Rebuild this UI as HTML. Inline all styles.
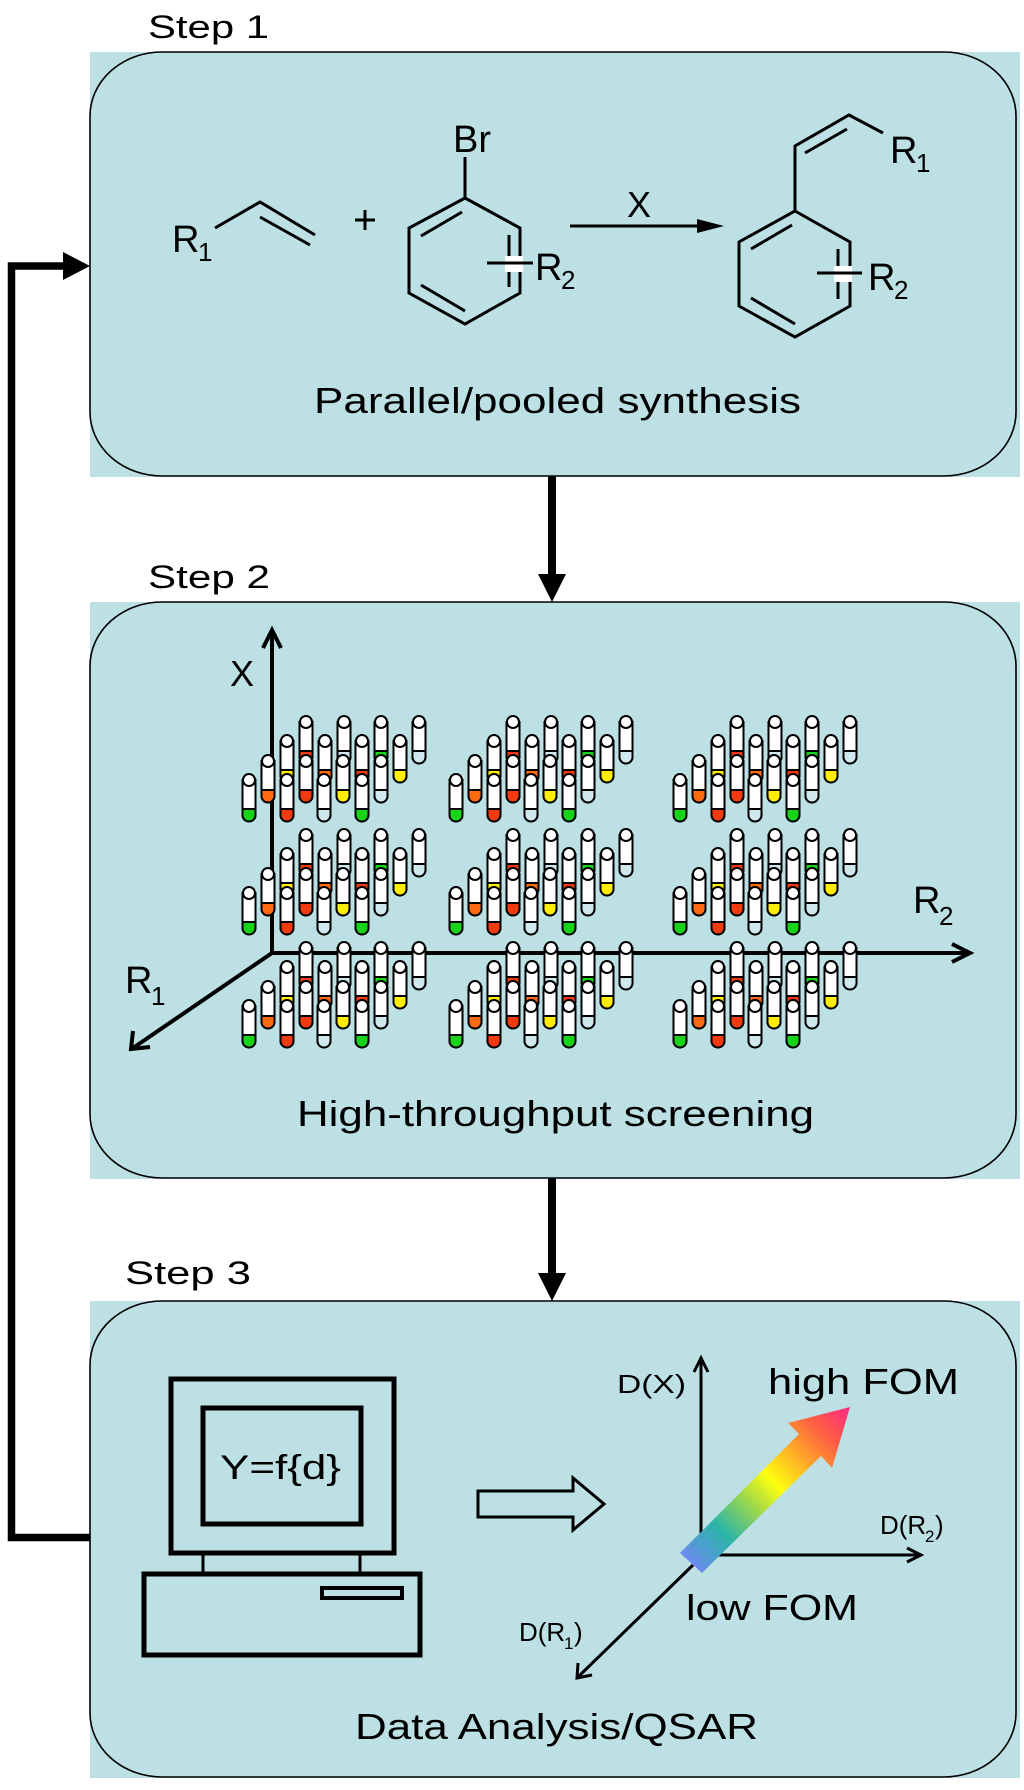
<!DOCTYPE html>
<html><head><meta charset="utf-8"><style>
html,body{margin:0;padding:0;background:#fff}
svg{display:block}
text{font-family:"Liberation Sans",Arial,sans-serif;fill:#000}
</style></head><body>
<svg width="1024" height="1790" viewBox="0 0 1024 1790" xmlns="http://www.w3.org/2000/svg" xmlns:xlink="http://www.w3.org/1999/xlink">
<defs>
<linearGradient id="rb" gradientUnits="userSpaceOnUse" x1="691" y1="1563" x2="850" y2="1407">
<stop offset="0" stop-color="#6a8cf0"/><stop offset="0.2" stop-color="#2ab5a8"/><stop offset="0.38" stop-color="#9fd84a"/><stop offset="0.52" stop-color="#ffff10"/><stop offset="0.7" stop-color="#ffa02a"/><stop offset="0.85" stop-color="#ff5848"/><stop offset="1" stop-color="#ff2a88"/>
</linearGradient>
<g id="t" stroke="#000" stroke-width="2"><path d="M-6.5,0 V35 A6.5,6.5 0 0 0 6.5,35 V0 Z" fill="#fff"/><circle cx="0" cy="0" r="6" fill="#fff"/></g>
<path id="cG" d="M-6.5,29 V35 A6.5,6.5 0 0 0 6.5,35 V29 Z" fill="#18d418" stroke="#000" stroke-width="2"/>
<path id="cO" d="M-6.5,29 V35 A6.5,6.5 0 0 0 6.5,35 V29 Z" fill="#ff6a10" stroke="#000" stroke-width="2"/>
<path id="cR" d="M-6.5,29 V35 A6.5,6.5 0 0 0 6.5,35 V29 Z" fill="#f23a10" stroke="#000" stroke-width="2"/>
<path id="cY" d="M-6.5,29 V35 A6.5,6.5 0 0 0 6.5,35 V29 Z" fill="#ffee00" stroke="#000" stroke-width="2"/>
<path id="cE" d="M-6.5,29 V35 A6.5,6.5 0 0 0 6.5,35 V29 Z" fill="#cfe8ee" stroke="#000" stroke-width="2"/>
<g id="grp">
<g transform="translate(57,-58)"><use xlink:href="#t"/><use xlink:href="#cR"/></g>
<g transform="translate(95,-58)"><use xlink:href="#t"/><use xlink:href="#cE"/></g>
<g transform="translate(132,-58)"><use xlink:href="#t"/><use xlink:href="#cG"/></g>
<g transform="translate(170,-58)"><use xlink:href="#t"/><use xlink:href="#cE"/></g>
<g transform="translate(38,-39)"><use xlink:href="#t"/><use xlink:href="#cY"/></g>
<g transform="translate(76,-39)"><use xlink:href="#t"/><use xlink:href="#cO"/></g>
<g transform="translate(113,-39)"><use xlink:href="#t"/><use xlink:href="#cR"/></g>
<g transform="translate(151,-39)"><use xlink:href="#t"/><use xlink:href="#cY"/></g>
<g transform="translate(19,-19)"><use xlink:href="#t"/><use xlink:href="#cO"/></g>
<g transform="translate(57,-19)"><use xlink:href="#t"/><use xlink:href="#cR"/></g>
<g transform="translate(94,-19)"><use xlink:href="#t"/><use xlink:href="#cY"/></g>
<g transform="translate(132,-19)"><use xlink:href="#t"/><use xlink:href="#cE"/></g>
<g transform="translate(0,0)"><use xlink:href="#t"/><use xlink:href="#cG"/></g>
<g transform="translate(38,0)"><use xlink:href="#t"/><use xlink:href="#cR"/></g>
<g transform="translate(75,0)"><use xlink:href="#t"/><use xlink:href="#cE"/></g>
<g transform="translate(113,0)"><use xlink:href="#t"/><use xlink:href="#cG"/></g>
</g>
</defs>

<rect x="90" y="52" width="930" height="425" fill="#bce0e3"/>
<rect x="90" y="602" width="930" height="577" fill="#bce0e3"/>
<rect x="90" y="1301" width="930" height="477" fill="#bce0e3"/>
<rect x="90" y="52" width="926" height="424" rx="72" ry="64" fill="none" stroke="#000" stroke-width="1.6"/>
<rect x="90" y="602" width="926" height="576" rx="72" ry="64" fill="none" stroke="#000" stroke-width="1.6"/>
<rect x="90" y="1301" width="926" height="476" rx="72" ry="64" fill="none" stroke="#000" stroke-width="1.6"/>

<path d="M90,1537.5 H11.5 V266 H66" fill="none" stroke="#000" stroke-width="7.5"/>
<polygon points="63,252 90,266 63,280" fill="#000"/>

<line x1="552" y1="476" x2="552" y2="576" stroke="#000" stroke-width="8"/>
<polygon points="538,574 566,574 552,602" fill="#000"/>
<line x1="552" y1="1178" x2="552" y2="1276" stroke="#000" stroke-width="8"/>
<polygon points="538,1273 566,1273 552,1301" fill="#000"/>

<text x="148" y="38" font-size="32" textLength="121" lengthAdjust="spacingAndGlyphs">Step 1</text>
<text x="148" y="588" font-size="32" textLength="122" lengthAdjust="spacingAndGlyphs">Step 2</text>
<text x="125" y="1284" font-size="32" textLength="126" lengthAdjust="spacingAndGlyphs">Step 3</text>

<g stroke="#000" stroke-width="3" fill="none">
<polyline points="215,228 260,202 315,235"/>
<line x1="260" y1="217" x2="310" y2="245"/>
<line x1="355" y1="220" x2="375" y2="220"/><line x1="365" y1="210" x2="365" y2="230"/>
<line x1="465" y1="157" x2="465" y2="198"/>
<polygon points="465,198 520,228 520,293 465,324 409,293 409,228"/>
<line x1="421" y1="236" x2="462" y2="212"/>
<line x1="421" y1="285" x2="465" y2="311"/>
<line x1="509" y1="235" x2="509" y2="287"/>
<line x1="570" y1="226" x2="700" y2="226"/>
<polyline points="795,211 795,146 849,115 883,133"/>
<line x1="805" y1="153" x2="847" y2="129"/>
<polygon points="795,211 850,242 850,306 795,337 739,306 739,242"/>
<line x1="751" y1="249" x2="792" y2="225"/>
<line x1="751" y1="298" x2="795" y2="324"/>
<line x1="838" y1="249" x2="838" y2="299"/>
</g>
<rect x="505" y="256" width="18" height="16" fill="#fff"/>
<line x1="487" y1="263" x2="533" y2="263" stroke="#000" stroke-width="3"/>
<rect x="834" y="266" width="18" height="16" fill="#fff"/>
<line x1="817" y1="273" x2="862" y2="273" stroke="#000" stroke-width="3"/>
<polygon points="697,219 724,226 697,233" fill="#000"/>
<text x="172" y="252" font-size="38">R</text><text x="198" y="261" font-size="26">1</text>
<text x="453" y="152" font-size="38">Br</text>
<text x="535" y="280" font-size="38">R</text><text x="561" y="289" font-size="26">2</text>
<text x="627" y="217" font-size="36">X</text>
<text x="890" y="163" font-size="38">R</text><text x="916" y="172" font-size="26">1</text>
<text x="868" y="290" font-size="38">R</text><text x="894" y="299" font-size="26">2</text>
<text x="314" y="413" font-size="36" textLength="487" lengthAdjust="spacingAndGlyphs">Parallel/pooled synthesis</text>

<g stroke="#000" stroke-width="4" fill="none">
<line x1="272" y1="630" x2="272" y2="953"/>
<line x1="272" y1="953" x2="970" y2="953"/>
<line x1="272" y1="953" x2="133" y2="1048"/>
<polyline points="263,648 272,630 281,648"/>
<polyline points="952,944 970,953 952,962"/>
<polyline points="133,1031 131,1049 150,1047"/>
</g>
<text x="230" y="686" font-size="36">X</text>
<text x="913" y="913" font-size="38">R</text><text x="939" y="925" font-size="26">2</text>
<text x="125" y="993" font-size="38">R</text><text x="151" y="1005" font-size="26">1</text>

<use xlink:href="#grp" transform="translate(249,780)"/>
<use xlink:href="#grp" transform="translate(456,780)"/>
<use xlink:href="#grp" transform="translate(680,780)"/>
<use xlink:href="#grp" transform="translate(249,893)"/>
<use xlink:href="#grp" transform="translate(456,893)"/>
<use xlink:href="#grp" transform="translate(680,893)"/>
<use xlink:href="#grp" transform="translate(249,1006)"/>
<use xlink:href="#grp" transform="translate(456,1006)"/>
<use xlink:href="#grp" transform="translate(680,1006)"/>

<text x="297" y="1126" font-size="36" textLength="517" lengthAdjust="spacingAndGlyphs">High-throughput screening</text>

<g stroke="#000" fill="none">
<rect x="171" y="1379" width="223" height="174" stroke-width="5"/>
<rect x="203" y="1408" width="158" height="116" stroke-width="5"/>
<line x1="203" y1="1553" x2="203" y2="1575" stroke-width="3"/>
<line x1="360" y1="1553" x2="360" y2="1575" stroke-width="3"/>
<rect x="144" y="1574" width="276" height="81" stroke-width="5"/>
<rect x="322" y="1588" width="80" height="10" stroke-width="4"/>
<polygon points="478,1491 573,1491 573,1478 604,1504 573,1530 573,1517 478,1517" stroke-width="3"/>
</g>
<text x="220" y="1479" font-size="34" textLength="121" lengthAdjust="spacingAndGlyphs">Y=f{d}</text>

<g stroke="#000" stroke-width="3" fill="none">
<line x1="701" y1="1360" x2="701" y2="1556"/>
<polyline points="694,1372 701,1358 708,1372"/>
<line x1="701" y1="1555" x2="920" y2="1555"/>
<polyline points="907,1548 921,1555 907,1562"/>
<line x1="693" y1="1565" x2="578" y2="1677"/>
<polyline points="578,1663 577,1678 592,1675"/>
</g>
<polygon points="680,1553 799,1434 788,1423 850,1407 832,1468 821,1456 702,1573" fill="url(#rb)"/>
<text x="617" y="1393" font-size="26" textLength="69" lengthAdjust="spacingAndGlyphs">D(X)</text>
<text x="880" y="1534" font-size="26">D(R</text><text x="925" y="1542" font-size="17">2</text><text x="935" y="1534" font-size="26">)</text>
<text x="519" y="1641" font-size="26">D(R</text><text x="564" y="1649" font-size="17">1</text><text x="574" y="1641" font-size="26">)</text>
<text x="768" y="1394" font-size="36" textLength="191" lengthAdjust="spacingAndGlyphs">high FOM</text>
<text x="686" y="1620" font-size="36" textLength="172" lengthAdjust="spacingAndGlyphs">low FOM</text>
<text x="355" y="1739" font-size="36" textLength="403" lengthAdjust="spacingAndGlyphs">Data Analysis/QSAR</text>
</svg>
</body></html>
